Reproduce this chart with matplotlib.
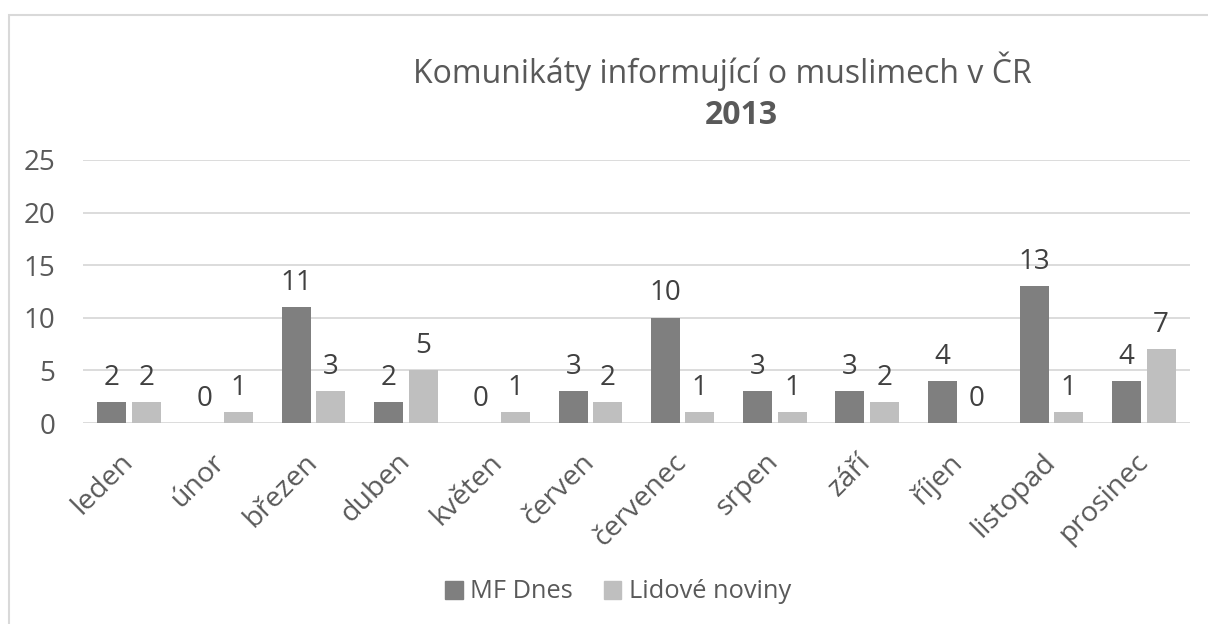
import matplotlib
matplotlib.use("Agg")
import matplotlib.pyplot as plt
import numpy as np
from matplotlib.patches import Rectangle, Patch

months = ["leden", "únor", "březen", "duben", "květen", "červen",
          "červenec", "srpen", "září", "říjen", "listopad", "prosinec"]
mf_dnes = [2, 0, 11, 2, 0, 3, 10, 3, 3, 4, 13, 4]
lidove = [2, 1, 3, 5, 1, 2, 1, 1, 2, 0, 1, 7]
series_names = ["MF Dnes", "Lidové noviny"]
yticks = [0, 5, 10, 15, 20, 25]

plt.rcParams['font.family'] = ['Open Sans', 'DejaVu Sans']
txt = '#595959'
c_dark = '#7f7f7f'
c_light = '#bfbfbf'
grid_c = '#d9d9d9'

W, H = 1208, 624
fig = plt.figure(figsize=(W / 100, H / 100), dpi=100)
fig.patch.set_facecolor('white')

# chart border
fig.patches.append(Rectangle((8.5 / W, -0.05), 1.1, 1 - 14.5 / H + 0.05,
                             transform=fig.transFigure, fill=False,
                             edgecolor='#d9d9d9', linewidth=1.5, zorder=0))

ax = fig.add_axes([83 / W, 1 - 423 / H, (1190 - 83) / W, (423 - 160) / H])
x = np.arange(len(months))
bw = 0.315
off = 0.186
b1 = ax.bar(x - off, mf_dnes, bw, color=c_dark, zorder=3)
b2 = ax.bar(x + off, lidove, bw, color=c_light, zorder=3)

for bars, vals in ((b1, mf_dnes), (b2, lidove)):
    for r, v in zip(bars, vals):
        ax.annotate(str(v), (r.get_x() + r.get_width() / 2, v),
                    xytext=(0, 12.5), textcoords='offset points',
                    ha='center', va='baseline', fontsize=20, color='#404040')

ax.set_xlim(-0.5, len(months) - 0.5)
ax.set_ylim(0, 25)
ax.set_yticks(yticks)
ax.set_yticklabels([str(t) for t in yticks], fontsize=20, color=txt)
ax.set_xticks(x)
ax.set_xticklabels(months, rotation=45, ha='right', va='center',
                   rotation_mode='anchor', fontsize=20.5, color=txt)
ax.tick_params(axis='both', length=0)
ax.tick_params(axis='y', pad=20)
ax.tick_params(axis='x', pad=25)
for s in ax.spines.values():
    s.set_visible(False)
ax.yaxis.grid(True, color=grid_c, linewidth=1.3, zorder=0)
ax.set_axisbelow(True)

fig.text(413 / W, 1 - 83 / H, "Komunikáty informující o muslimech v ČR",
         ha='left', va='baseline', fontsize=23, color=txt)
fig.text(705 / W, 1 - 124 / H, "2013", ha='left', va='baseline',
         fontsize=23, color=txt, fontweight='bold')

handles = [Patch(color=c_dark), Patch(color=c_light)]
fig.legend(handles, series_names, loc='center', bbox_to_anchor=(618 / W, 1 - 592 / H),
           ncol=2, frameon=False, fontsize=18.3, labelcolor=txt,
           handlelength=0.7, handleheight=0.7, handletextpad=0.3, columnspacing=1.2)

fig.savefig("out.png", dpi=100, facecolor='white')
